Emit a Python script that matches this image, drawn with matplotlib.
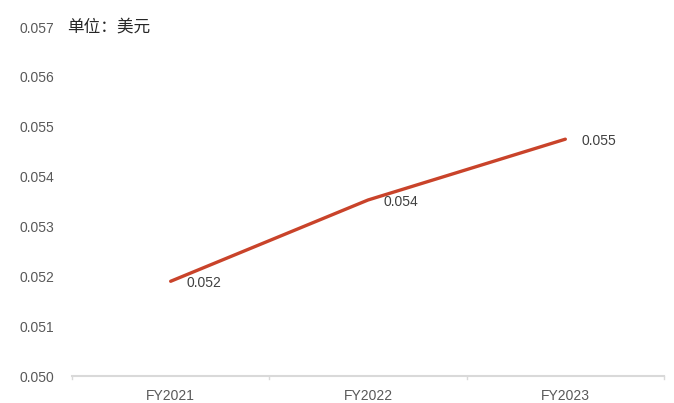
import matplotlib.pyplot as plt

plt.rcParams['font.family'] = ['Liberation Sans', 'Noto Sans CJK SC', 'DejaVu Sans']

# data
years = ["FY2021", "FY2022", "FY2023"]
values = [0.0519, 0.05353, 0.05475]
value_labels = ["0.052", "0.054", "0.055"]
y_ticks = [0.050, 0.051, 0.052, 0.053, 0.054, 0.055, 0.056, 0.057]

fig = plt.figure(figsize=(6.74, 4.03), dpi=100)
ax = fig.add_axes([72 / 674, 1 - 376 / 403, (664 - 72) / 674, (376 - 27) / 403])

x = list(range(len(years)))
ax.plot(x, values, color="#C9432A", linewidth=2.4, solid_capstyle="round")

for xi, v, lab in zip(x, values, value_labels):
    ax.text(xi + 0.08, v - 0.00003, lab, fontsize=10, color="#404040", va="center", ha="left")

ax.set_xlim(-0.5, 2.5)
ax.set_ylim(0.050, 0.057)
ax.set_yticks(y_ticks)
ax.set_yticklabels([f"{t:.3f}" for t in y_ticks])
ax.set_xticks(x)
ax.set_xticklabels(years)
ax.tick_params(axis="y", length=0, pad=13, labelsize=10, labelcolor="#595959")
ax.tick_params(axis="x", length=0, pad=9, labelsize=10, labelcolor="#595959")

# category boundary ticks
for b in [-0.5, 0.5, 1.5, 2.5]:
    ax.plot([b, b], [0.050, 0.050 - 0.00006], color="#D9D9D9", linewidth=1, clip_on=False)

for side in ["top", "right", "left"]:
    ax.spines[side].set_visible(False)
ax.spines["bottom"].set_color("#D9D9D9")
ax.spines["bottom"].set_linewidth(1.5)

fig.text(67 / 674, 1 - 27 / 403, "单位：美元", fontsize=12, color="#262626",
         family=['Noto Sans CJK SC', 'DejaVu Sans'], va="center", ha="left")

fig.savefig("out.png", dpi=100)
